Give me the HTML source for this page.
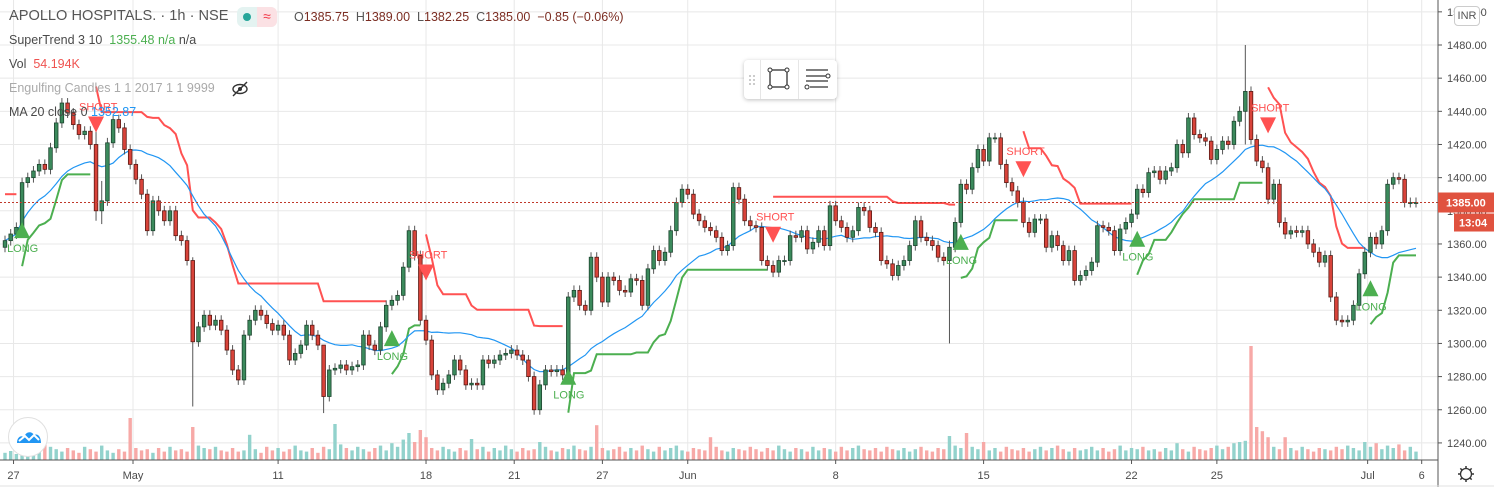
<!DOCTYPE html>
<html><head><meta charset="utf-8">
<style>
html,body{margin:0;padding:0;background:#fff;}
body{width:1494px;height:487px;overflow:hidden;position:relative;font-family:"Liberation Sans",sans-serif;}
svg{position:absolute;left:0;top:0;}
.lg{position:absolute;left:9px;font-size:12.5px;color:#4a4a4a;white-space:nowrap;}
</style></head>
<body>
<svg id="chart" width="1494" height="487"></svg>

<div class="lg" style="top:8px;font-size:14.6px;color:#555;">APOLLO HOSPITALS. · 1h · NSE</div>
<div style="position:absolute;left:237px;top:7px;width:40px;height:20px;border-radius:6px;background:#e4f3f1;overflow:hidden;">
  <div style="position:absolute;left:6px;top:6px;width:8px;height:8px;border-radius:50%;background:#26a69a;"></div>
  <div style="position:absolute;left:20px;top:0;width:20px;height:20px;background:#fbe1e4;color:#f23645;font-size:14px;text-align:center;line-height:19px;">≈</div>
</div>
<div class="lg" style="left:294px;top:10px;font-size:12.5px;color:#555;">O<span style="color:#7b2d22">1385.75</span>&nbsp; H<span style="color:#7b2d22">1389.00</span>&nbsp; L<span style="color:#7b2d22">1382.25</span>&nbsp; C<span style="color:#7b2d22">1385.00</span>&nbsp; <span style="color:#7b2d22">−0.85 (−0.06%)</span></div>
<div class="lg" style="top:33px;">SuperTrend 3 10 &nbsp;<span style="color:#4caf50">1355.48 n/a</span> n/a</div>
<div class="lg" style="top:57px;">Vol &nbsp;<span style="color:#ef5350">54.194K</span></div>
<div class="lg" style="top:81px;color:#aaa;">Engulfing Candles 1 1 2017 1 1 9999</div>
<svg style="left:230px;top:80px;" width="20" height="18"><ellipse cx="10" cy="9" rx="7" ry="4.5" fill="none" stroke="#333" stroke-width="1.4"/><circle cx="10" cy="9" r="2" fill="#333"/><line x1="3" y1="16" x2="17" y2="2" stroke="#333" stroke-width="1.4"/></svg>
<div class="lg" style="top:105px;">MA 20 close 0 <span style="color:#2196f3">1352.87</span></div>

<div style="position:absolute;left:744px;top:60px;width:93px;height:39px;background:#fff;border-radius:4px;box-shadow:0 1px 4px rgba(0,0,0,0.25);">
  <div style="position:absolute;left:16px;top:0;width:1px;height:39px;background:#e6e6e6;"></div>
  <div style="position:absolute;left:54px;top:0;width:1px;height:39px;background:#e6e6e6;"></div>
  <svg style="left:0;top:0;" width="93" height="39">
    <g fill="#ccc"><rect x="5" y="15" width="2" height="2"/><rect x="9" y="15" width="2" height="2"/><rect x="5" y="19" width="2" height="2"/><rect x="9" y="19" width="2" height="2"/><rect x="5" y="23" width="2" height="2"/><rect x="9" y="23" width="2" height="2"/></g>
    <rect x="26" y="10" width="17" height="17" fill="none" stroke="#333" stroke-width="1.3"/>
    <g fill="#fff" stroke="#333"><circle cx="26" cy="10" r="2"/><circle cx="43" cy="10" r="2"/><circle cx="26" cy="27" r="2"/><circle cx="43" cy="27" r="2"/></g>
    <g stroke="#333" stroke-width="1.3"><line x1="62" y1="10" x2="84" y2="10"/><line x1="62" y1="16" x2="82" y2="16"/><line x1="62" y1="21" x2="84" y2="21"/><line x1="66" y1="27" x2="84" y2="27"/></g>
    <circle cx="84" cy="16" r="2" fill="#fff" stroke="#333"/><circle cx="63" cy="27" r="2" fill="#fff" stroke="#333"/>
  </svg>
</div>

<div style="position:absolute;left:1454px;top:6px;width:24px;height:18px;border:1px solid #ccc;border-radius:4px;background:#fff;font-size:11px;color:#555;text-align:center;line-height:18px;">INR</div>

<div style="position:absolute;left:8px;top:417px;width:38px;height:38px;border-radius:50%;background:#fff;border:1px solid #e0e0e0;">
  <svg style="left:7px;top:11px;" width="26" height="16"><path d="M1 14 C1 8 5 6 8 8 C10 2 16 2 18 6 C22 4 25 8 25 14 Z" fill="#2196f3"/><path d="M3 12 L9 7 L13 11 L18 6 L23 11" fill="none" stroke="#fff" stroke-width="2"/></svg>
</div>

<script>
const closes = [
1362,1366,1370,1397,1400,1404,1408,1405,1418,1433,
1445,1439,1432,1426,1428,1420,1380,1386,1421,1435,
1430,1417,1408,1399,1390,1368,1386,1380,1374,1380,
1365,1362,1350,1301,1310,1317,1311,1314,1308,1296,
1284,1278,1305,1314,1320,1317,1312,1308,1311,1305,
1290,1294,1299,1311,1305,1299,1268,1284,1285,1287,
1284,1286,1287,1305,1299,1296,1310,1323,1326,1329,
1346,1368,
1353,1314,1302,1281,1272,1276,1281,1290,1284,1275,
1276,1275,1290,1288,1290,1293,1294,1296,1293,1290,
1280,1260,1275,1284,1283,1284,1281,1328,1332,1323,
1320,1352,1340,1325,1340,1338,1332,1331,1339,1338,
1323,1345,1356,1350,1355,1368,1385,1393,1390,1378,
1374,1370,1368,1364,1356,1359,1394,1387,1374,1371,
1370,1350,1347,1343,1350,1350,1365,1364,1368,1357,
1361,1368,1359,1383,1374,1370,1364,1368,1382,1380,
1370,1367,1350,1348,1341,1347,1350,1359,1374,1364,
1362,1359,
1352,1350,1358,1373,1396,1393,1406,1417,1410,1424,
1424,1408,1397,1392,1385,1373,1367,1375,1375,1358,
1365,1359,1350,1356,1338,1341,1344,1349,1371,1370,
1368,1356,1369,1373,1378,1393,1391,1403,1404,1399,
1404,1406,1420,1415,1436,1426,1424,1422,1411,1417,
1422,1420,1434,1440,1452,1423,1410,1406,1387,1396,
1373,1366,1368,1367,1368,1360,1355,1349,1353,1328,
1314,1313,1314,1323,1342,1355,1364,1360,1368,1396,
1400,1399,1385,1385,1385];
const volumes = [
12,15,10,18,14,20,16,45,22,18,
14,20,16,12,22,18,14,24,16,12,
18,14,70,20,16,18,12,20,14,22,
16,18,14,55,24,20,18,22,16,14,
20,14,16,42,18,12,22,16,20,14,
18,24,16,14,20,12,22,18,60,26,
20,16,22,18,14,20,24,16,28,22,
34,45,30,50,38,20,16,22,18,14,
20,16,35,18,22,14,20,16,24,18,
14,20,16,18,30,22,16,14,20,18,
24,18,16,22,58,20,16,18,22,14,
20,16,24,18,14,22,16,20,24,16,
14,20,18,16,38,22,16,14,20,18,
16,22,18,14,20,16,24,18,14,20,
18,14,22,16,20,18,14,22,16,20,
24,18,16,20,14,22,18,16,20,14,
18,22,16,14,20,18,40,24,20,45,
22,18,30,16,20,14,22,18,16,20,
14,18,22,16,20,24,18,14,20,16,
18,22,16,20,14,18,24,16,20,18,
22,16,18,14,20,16,28,18,14,22,
18,16,20,24,18,22,28,30,32,190,
55,48,38,22,18,38,20,16,22,18,
14,20,18,16,22,18,24,20,16,30,
22,28,18,24,20,26,16,22,14];
const wickIdx = [16, 17, 33, 56, 166, 218];
const wickHigh = [1432, 1398, 1352, 1290, 1362, 1480];
const wickLow = [1374, 1372, 1262, 1258, 1300, 1420];
const priceTicks = [1240,1260,1280,1300,1320,1340,1360,1380,1400,1420,1440,1460,1480,1500];
const dateLabels = ["27","May","11","18","21","27","Jun","8","15","22","25","Jul","6"];
const dateIdx = [1.5, 22.5, 48, 74, 89.5, 105, 120, 146, 172, 198, 213, 239.5, 249];
const lastPrice = 1385.00;

const svg = document.getElementById('chart');
const NS = 'http://www.w3.org/2000/svg';
const N = closes.length;
const plotR = 1438, plotB = 460;
const step = 1411 / (N - 1);
function xs(i){ return 5 + i * step; }
function ys(p){ return 45 + (1480 - p) * 1.658; }
function mk(tag, attrs, parent){ const e = document.createElementNS(NS, tag); for (const k in attrs) e.setAttribute(k, attrs[k]); (parent||svg).appendChild(e); return e; }

const grid = mk('g', {});


priceTicks.forEach(p => { const y = ys(p); if (y < 0) return; mk('line', {x1:0, x2:plotR, y1:y, y2:y, stroke:'#e8e8e8', 'stroke-width':1}, grid); });
dateIdx.forEach(d => { const x = xs(d); mk('line', {x1:x, x2:x, y1:0, y2:plotB, stroke:'#e8e8e8', 'stroke-width':1}, grid); });

const opens = closes.map((c, i) => i === 0 ? c - 4 : closes[i-1]);
const highs = closes.map((c, i) => Math.max(c, opens[i]) + 3);
const lows = closes.map((c, i) => Math.min(c, opens[i]) - 3);
wickIdx.forEach((k, j) => { highs[k] = wickHigh[j]; lows[k] = wickLow[j]; });

const vg = mk('g', {});


volumes.forEach((v, i) => {
  const h = v * 0.6;
  const up = closes[i] >= opens[i];
  const r = mk('rect', {x: xs(i) - 1.7, y: plotB - h, width: 3.4, height: h, fill: up ? '#92d2cc' : '#f7a9a7'}, vg);
  
  
});

const st = []; const trend = [];
let atr = 0, upPrev = 0, dnPrev = 0, tr = -1;
for (let i = 0; i < N; i++) {
  const t = i === 0 ? highs[i] - lows[i] : Math.max(highs[i]-lows[i], Math.abs(highs[i]-closes[i-1]), Math.abs(lows[i]-closes[i-1]));
  atr = i === 0 ? t : (atr * 9 + t) / 10;
  const hl2 = (highs[i] + lows[i]) / 2;
  let up = hl2 - 3 * atr, dn = hl2 + 3 * atr;
  if (i > 0) {
    if (closes[i-1] > upPrev) up = Math.max(up, upPrev);
    if (closes[i-1] < dnPrev) dn = Math.min(dn, dnPrev);
    if (tr === -1 && closes[i] > dnPrev) tr = 1;
    else if (tr === 1 && closes[i] < upPrev) tr = -1;
  }
  trend.push(tr); st.push(tr === 1 ? up : dn);
  upPrev = up; dnPrev = dn;
}
const sg = mk('g', {});


let seg = [];
function flush(t){ if (seg.length > 1) { const pl = mk('polyline', {points: seg.join(' '), fill:'none', stroke: t === 1 ? '#4caf50' : '#ff5252', 'stroke-width': 2}, sg);   } seg = []; }
for (let i = 0; i < N; i++) {
  if (i > 0 && trend[i] !== trend[i-1]) flush(trend[i-1]);
  seg.push(xs(i).toFixed(1) + ',' + ys(st[i]).toFixed(1));
}
flush(trend[N-1]);

const ma = [];
for (let i = 0; i < N; i++) { const s = Math.max(0, i - 19); let sum = 0; for (let k = s; k <= i; k++) sum += closes[k]; ma.push(sum / (i - s + 1)); }
const maLine = mk('polyline', {points: ma.map((m, i) => xs(i).toFixed(1) + ',' + ys(m).toFixed(1)).join(' '), fill:'none', stroke:'#2196f3', 'stroke-width':1.2});



const cg = mk('g', {});


for (let i = 0; i < N; i++) {
  const x = xs(i), up = closes[i] >= opens[i];
  mk('line', {x1:x, x2:x, y1:ys(highs[i]), y2:ys(lows[i]), stroke:'#555', 'stroke-width':1}, cg);
  const top = ys(Math.max(opens[i], closes[i])), bot = ys(Math.min(opens[i], closes[i]));
  const b = mk('rect', {x: x - 1.8, y: top, width: 3.6, height: Math.max(1, bot - top), fill: up ? '#3b8a5c' : '#d8433a', stroke: up ? '#1e4630' : '#5b1a14', 'stroke-width': 0.8}, cg);
  
  
}

for (let i = 1; i < N; i++) {
  if (trend[i] === trend[i-1]) continue;
  const x = xs(i);
  if (trend[i] === 1) {
    const y0 = ys(st[i]);
    const tri = mk('polygon', {points: `${x},${y0-44} ${x-8},${y0-28} ${x+8},${y0-28}`, fill:'#4caf50'});
    
    
    const t = mk('text', {x: x - 15, y: y0 - 14, fill:'#4caf50', 'font-size': 11, 'font-family':'Liberation Sans, sans-serif'});
    t.textContent = 'LONG';
    
    
  } else {
    const y0 = ys(st[i]);
    const t = mk('text', {x: x - 17, y: y0 + 24, fill:'#ff5252', 'font-size': 11, 'font-family':'Liberation Sans, sans-serif'});
    t.textContent = 'SHORT';
    
    
    const tri = mk('polygon', {points: `${x-8},${y0+30} ${x+8},${y0+30} ${x},${y0+46}`, fill:'#ff5252'});
    
    
  }
}

const ly = ys(lastPrice);
const pl = mk('line', {x1:0, x2:plotR, y1:ly, y2:ly, stroke:'#c0392b', 'stroke-width':1, 'stroke-dasharray':'2,2'});



mk('rect', {x: plotR, y: 0, width: 56, height: 487, fill:'#fff'});
mk('rect', {x: 0, y: plotB, width: plotR, height: 27, fill:'#fff'});
const ax = mk('line', {x1:plotR, x2:plotR, y1:0, y2:487, stroke:'#555', 'stroke-width':1});


const bx = mk('line', {x1:0, x2:plotR, y1:plotB, y2:plotB, stroke:'#555', 'stroke-width':1});


mk('line', {x1:0, x2:1494, y1:486, y2:486, stroke:'#e0e0e0', 'stroke-width':1});
priceTicks.forEach(p => {
  const y = ys(p);
  mk('line', {x1:plotR, x2:plotR+4, y1:y, y2:y, stroke:'#555'});
  const t = mk('text', {x: 1447, y: y + 4, fill:'#4a4a4a', 'font-size': 11, 'font-family':'Liberation Sans, sans-serif'});
  t.textContent = p.toFixed(2);
  
  
});
dateLabels.forEach((d, j) => {
  const x = xs(dateIdx[j]);
  mk('line', {x1:x, x2:x, y1:plotB, y2:plotB+4, stroke:'#555'});
  const t = mk('text', {x: x, y: 479, fill:'#4a4a4a', 'font-size': 11, 'text-anchor':'middle', 'font-family':'Liberation Sans, sans-serif'});
  t.textContent = d;
  
  
});

const lb = mk('rect', {x: plotR, y: ly - 10, width: 56, height: 20, fill:'#e0523f'});


const lt = mk('text', {x: 1446, y: ly + 4, fill:'#fff', 'font-size': 11, 'font-weight':'bold', 'font-family':'Liberation Sans, sans-serif'});
lt.textContent = lastPrice.toFixed(2);
const cb = mk('rect', {x: 1454, y: ly + 11, width: 40, height: 18, fill:'#e0523f'});


const ct = mk('text', {x: 1459, y: ly + 24, fill:'#fff', 'font-size': 11, 'font-weight':'bold', 'font-family':'Liberation Sans, sans-serif'});
ct.textContent = '13:04';

const gear = mk('g', {});


mk('circle', {cx:1466, cy:474, r:5.5, fill:'none', stroke:'#333', 'stroke-width':1.3}, gear);
for (let a = 0; a < 8; a++) { const r = a * Math.PI / 4; mk('line', {x1:1466 + Math.cos(r)*5.5, y1:474 + Math.sin(r)*5.5, x2:1466 + Math.cos(r)*8, y2:474 + Math.sin(r)*8, stroke:'#333', 'stroke-width':1.5}, gear); }
</script>
</body></html>
